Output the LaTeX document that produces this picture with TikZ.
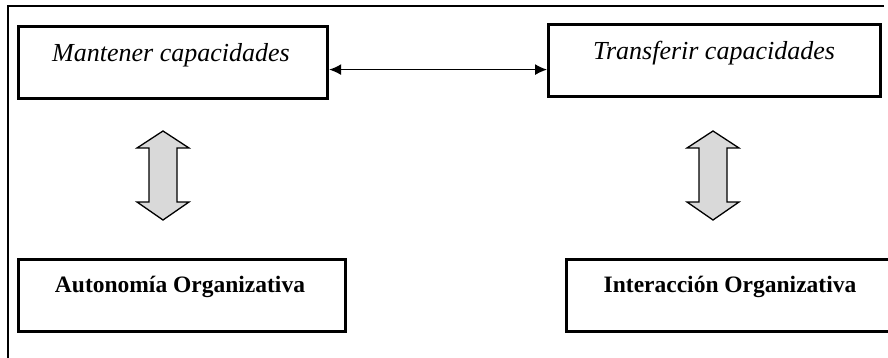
\documentclass[tikz,border=0pt]{standalone}
\usepackage{fontspec}
\setmainfont{Liberation Serif}
\usetikzlibrary{arrows.meta}
\tikzset{
  boxnode/.style={draw, line width=3.2pt, inner sep=0pt, anchor=north west},
  lbl/.style={anchor=base, inner sep=0pt},
  itlbl/.style={lbl, font=\fontsize{26}{28}\selectfont\itshape},
  bflbl/.style={lbl, font=\fontsize{23.5}{26}\selectfont\bfseries},
  dblarrow/.style={draw, line width=1.3pt, fill=black!15, line join=miter},
  link/.style={line width=1.3pt, {Latex[length=12pt,width=11pt]}-{Latex[length=12pt,width=11pt]}},
  frame/.style={line width=1.2pt}
}
\begin{document}
\begin{tikzpicture}[x=1pt,y=-1pt]
\useasboundingbox (0,0) rectangle (888,358);
\clip (0,0) rectangle (888,358);
% frame
\coordinate (ftr) at (884,6);
\coordinate (ftl) at (8,6);
\coordinate (fbl) at (8,358);
\draw[frame] (ftr) -- (ftl) -- (fbl);
% boxes
\node[boxnode, minimum width=309pt, minimum height=72pt] (b1) at (17,25) {};
\node[boxnode, minimum width=332pt, minimum height=72pt] (b2) at (547,23) {};
\node[boxnode, minimum width=327pt, minimum height=72pt] (b3) at (17,258) {};
\node[boxnode, minimum width=330pt, minimum height=72pt] (b4) at (565,258) {};
% labels
\node[itlbl] (t1) at (171,62) {Mantener capacidades};
\node[itlbl] (t2) at (714,60) {Transferir capacidades};
\node[bflbl] (t3) at (180,292) {Autonomía Organizativa};
\node[bflbl] (t4) at (730,292) {Interacción Organizativa};
% link
\draw[link] ([yshift=-7pt]b1.east) -- ([yshift=-9pt]b2.west);
% double arrows
\draw[dblarrow] (163,131) -- (189,148) -- (177,148) -- (177,202) -- (189,202) -- (163,220)
  -- (137,202) -- (149,202) -- (149,148) -- (137,148) -- cycle;
\draw[dblarrow] (713,131) -- (739,148) -- (727,148) -- (727,202) -- (739,202) -- (713,220)
  -- (687,202) -- (699,202) -- (699,148) -- (687,148) -- cycle;
\end{tikzpicture}
\end{document}
